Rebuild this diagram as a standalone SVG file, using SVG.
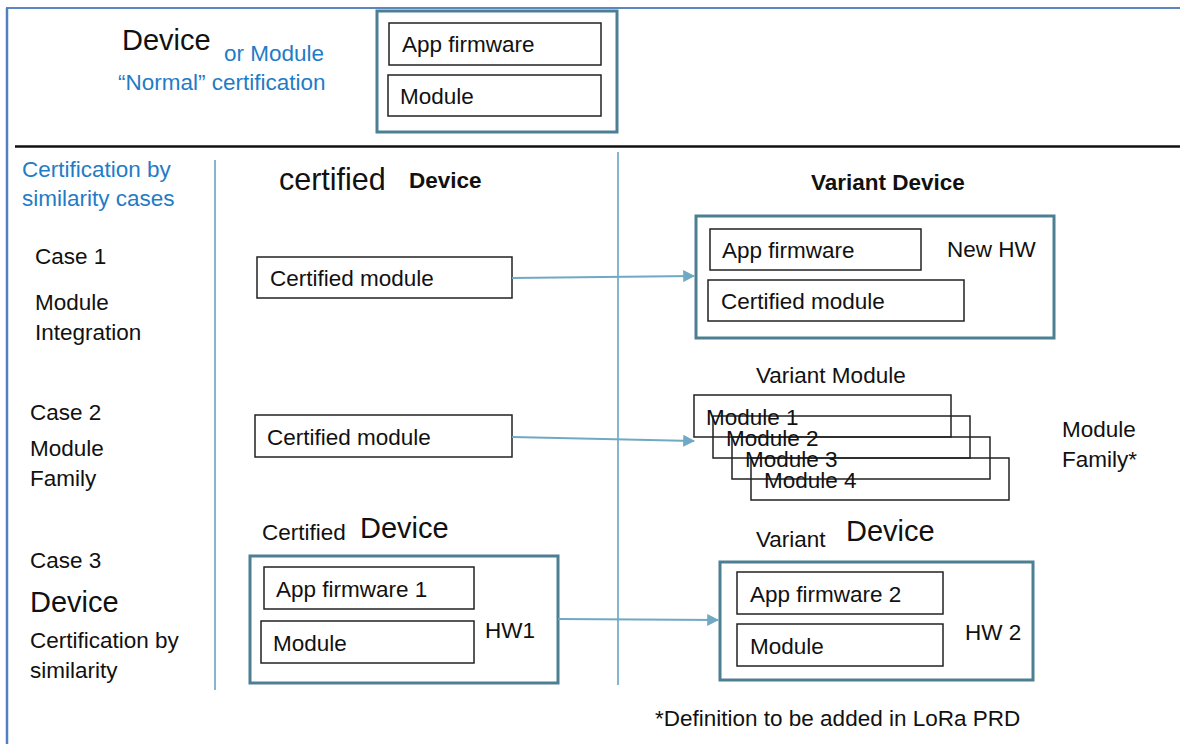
<svg xmlns="http://www.w3.org/2000/svg" width="1180" height="744" viewBox="0 0 1180 744">
  <defs>
    <marker id="arrow" viewBox="0 0 10 10" refX="9" refY="5" markerWidth="6" markerHeight="6" markerUnits="strokeWidth" orient="auto">
      <path d="M0,0 L10,5 L0,10 z" fill="#6fa9c4"/>
    </marker>
    <style>
      text { font-family: "Liberation Sans", Arial, sans-serif; font-size: 22.5px; fill: #111; }
      .big { font-size: 29px; }
      .bold { font-weight: bold; }
      .blue { fill: #1f7cc6; }
      .frame { fill: #fff; stroke: #4d7f93; stroke-width: 3; }
      .part { fill: #fff; stroke: #222; stroke-width: 1.5; }
      .stack { fill: none; stroke: #222; stroke-width: 1.5; }
      .divider { stroke: #86b6cd; stroke-width: 2; }
      .link { stroke: #6fa9c4; stroke-width: 2; fill: none; marker-end: url(#arrow); }
    </style>
  </defs>

  <rect width="1180" height="744" fill="#fff"/>

  <!-- page frame and separators -->
  <g id="frame">
    <line x1="6" y1="8" x2="1180" y2="8" stroke="#5b87c0" stroke-width="2"/>
    <line x1="7" y1="8" x2="7" y2="744" stroke="#4f81bd" stroke-width="2.5"/>
    <line x1="15" y1="146.5" x2="1180" y2="146.5" stroke="#111" stroke-width="2.5"/>
    <line class="divider" x1="215" y1="160" x2="215" y2="690"/>
    <line class="divider" x1="618" y1="152" x2="618" y2="685"/>
  </g>

  <!-- normal certification -->
  <g id="normal-cert">
    <text x="122" y="50" class="big">Device</text>
    <text x="224" y="61" class="blue">or Module</text>
    <text x="118" y="90" class="blue">“Normal” certification</text>
    <rect class="frame" x="377" y="11" width="240" height="121"/>
    <rect class="part" x="389" y="23" width="212" height="42"/>
    <text x="402" y="52">App firmware</text>
    <rect class="part" x="388" y="75" width="213" height="41"/>
    <text x="400" y="104">Module</text>
  </g>

  <!-- column headings -->
  <g id="headings">
    <text x="22" y="177" class="blue">Certification by</text>
    <text x="22" y="206" class="blue">similarity cases</text>
    <text x="279" y="190" class="big" style="font-size:30.5px">certified</text>
    <text x="409" y="188" class="bold">Device</text>
    <text x="811" y="190" class="bold">Variant Device</text>
  </g>

  <!-- case 1 -->
  <g id="case1-label">
    <text x="35" y="264">Case 1</text>
    <text x="35" y="310">Module</text>
    <text x="35" y="340">Integration</text>
  </g>
  <g id="case1-certified">
    <rect class="part" x="257" y="257" width="255" height="41"/>
    <text x="270" y="286">Certified module</text>
  </g>
  <g id="case1-variant">
    <rect class="frame" x="696" y="216" width="358" height="122"/>
    <rect class="part" x="710" y="229" width="211" height="41"/>
    <text x="722" y="258">App firmware</text>
    <text x="947" y="257">New HW</text>
    <rect class="part" x="708" y="280" width="256" height="41"/>
    <text x="721" y="309">Certified module</text>
  </g>

  <!-- case 2 -->
  <g id="case2-label">
    <text x="30" y="420">Case 2</text>
    <text x="30" y="456">Module</text>
    <text x="30" y="486">Family</text>
  </g>
  <g id="case2-certified">
    <rect class="part" x="255" y="415" width="257" height="42"/>
    <text x="267" y="445">Certified module</text>
  </g>
  <g id="case2-variant">
    <text x="756" y="383">Variant Module</text>
    <rect class="stack" x="694" y="395" width="257" height="42"/>
    <rect class="stack" x="713" y="416" width="257" height="42"/>
    <rect class="stack" x="732" y="437" width="258" height="42"/>
    <rect class="stack" x="751" y="458" width="258" height="42"/>
    <text x="706" y="425">Module 1</text>
    <text x="726" y="446">Module 2</text>
    <text x="745" y="467">Module 3</text>
    <text x="764" y="488">Module 4</text>
    <text x="1062" y="437">Module</text>
    <text x="1062" y="467">Family*</text>
  </g>

  <!-- case 3 -->
  <g id="case3-label">
    <text x="30" y="568">Case 3</text>
    <text x="30" y="612" class="big">Device</text>
    <text x="30" y="648">Certification by</text>
    <text x="30" y="678">similarity</text>
  </g>
  <g id="case3-certified">
    <text x="262" y="540">Certified</text>
    <text x="360" y="538" class="big">Device</text>
    <rect class="frame" x="250" y="556" width="308" height="127"/>
    <rect class="part" x="264" y="567" width="210" height="42"/>
    <text x="276" y="597">App firmware 1</text>
    <rect class="part" x="261" y="621" width="213" height="42"/>
    <text x="273" y="651">Module</text>
    <text x="485" y="638">HW1</text>
  </g>
  <g id="case3-variant">
    <text x="756" y="547">Variant</text>
    <text x="846" y="541" class="big">Device</text>
    <rect class="frame" x="720" y="562" width="313" height="118"/>
    <rect class="part" x="737" y="572" width="206" height="42"/>
    <text x="750" y="602">App firmware 2</text>
    <rect class="part" x="737" y="624" width="206" height="42"/>
    <text x="750" y="654">Module</text>
    <text x="965" y="640">HW 2</text>
  </g>

  <g id="footnote">
    <text x="655" y="726">*Definition to be added in LoRa PRD</text>
  </g>

  <!-- connectors -->
  <g id="connectors">
    <line class="link" x1="512" y1="278" x2="694" y2="276"/>
    <line class="link" x1="512" y1="437" x2="694" y2="441"/>
    <line class="link" x1="558" y1="619" x2="718" y2="620"/>
  </g>
</svg>
